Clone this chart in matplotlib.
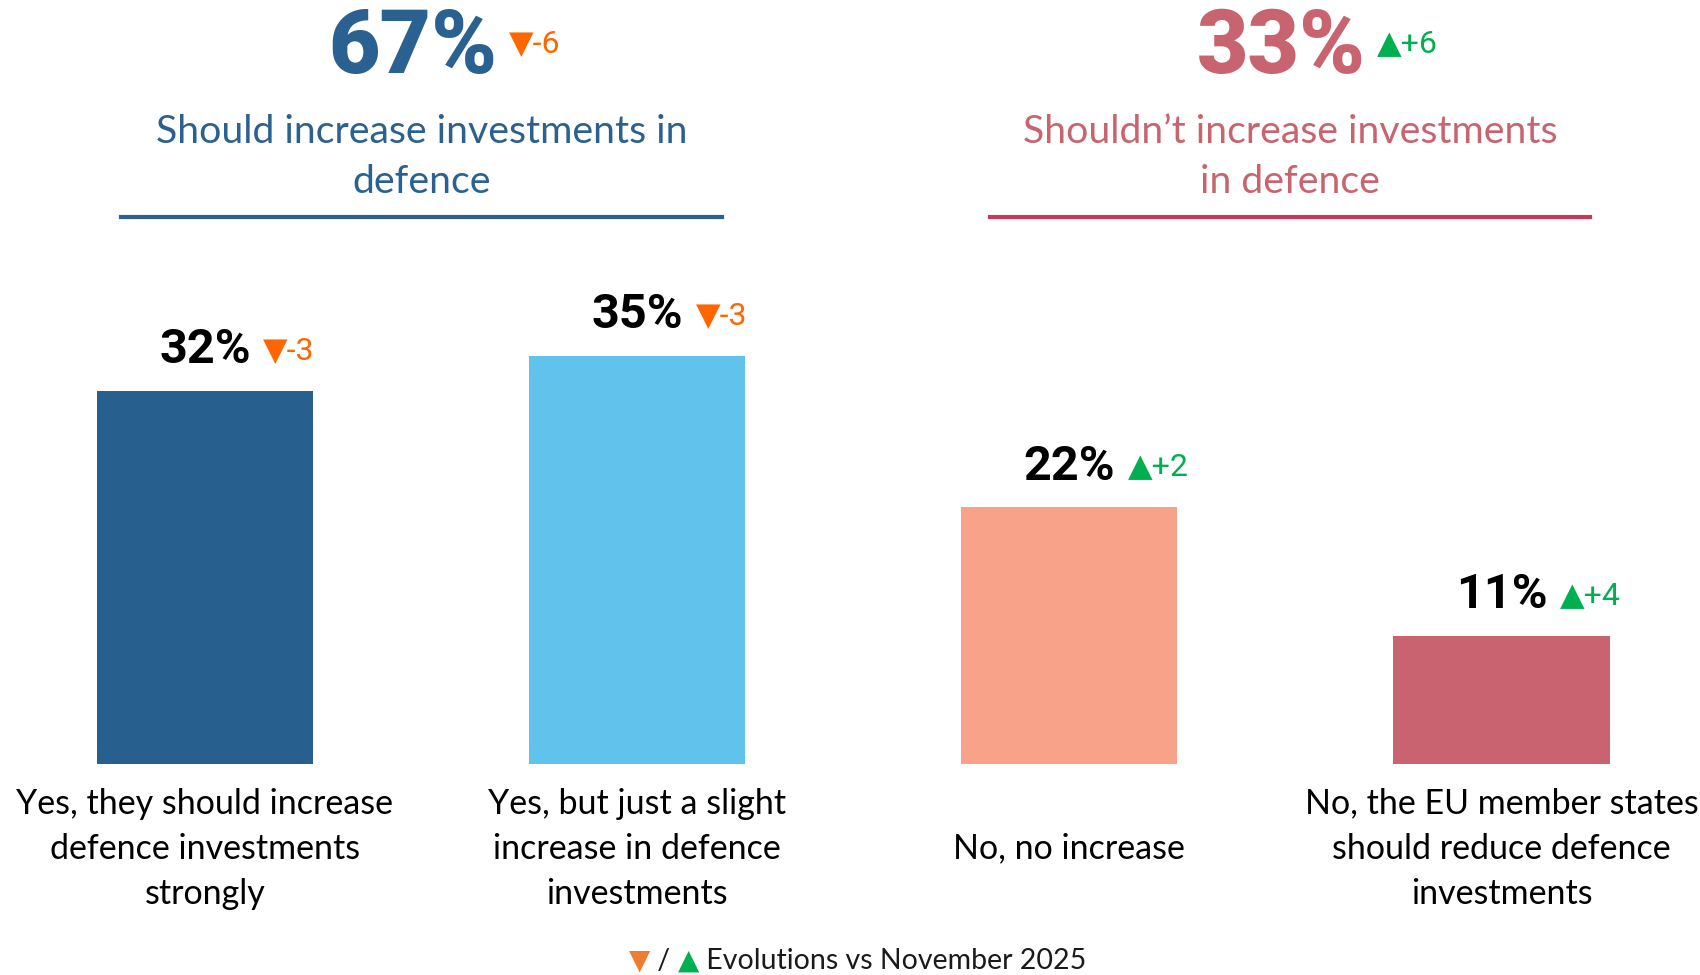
import matplotlib
matplotlib.use('Agg')
from matplotlib import pyplot as plt
from matplotlib.lines import Line2D

categories = ['Yes, they should increase\ndefence investments\nstrongly',
              'Yes, but just a slight\nincrease in defence\ninvestments',
              'No, no increase',
              'No, the EU member states\nshould reduce defence\ninvestments']
values = [32, 35, 22, 11]
changes = [-3, -3, 2, 4]
bar_colors = ['#27608E', '#61C3EC', '#F9A28A', '#C9636F']

group_totals = [67, 33]
group_changes = [-6, 6]
group_titles = ['Should increase investments in\ndefence',
                'Shouldn\u2019t increase investments\nin defence']
group_colors = ['#2A6190', '#C8646F']
group_line_colors = ['#2A6190', '#C9375A']

footer_note = 'Evolutions vs November 2025'

ORANGE = '#FF6600'
GREEN = '#00B050'
SANS = ['Lato', 'DejaVu Sans']
NUM = ['Roboto', 'DejaVu Sans']

def fx(px):
    return px / 1700

def fy(py):
    return 1 - py / 975

def delta_text(v):
    return ('\u25BC' if v < 0 else '\u25B2') + f'{v:+d}'

fig = plt.figure(figsize=(17, 9.75), dpi=100)

# bar area
ax = fig.add_axes([fx(10.5), fy(764), fx(1685.5), 466.8 / 975])
x = list(range(len(values)))
ax.bar(x, values, width=0.5, color=bar_colors)
ax.set_xlim(-0.45, 3.45)
ax.set_ylim(0, 40)
ax.axis('off')

for i, (v, c) in enumerate(zip(values, changes)):
    t = ax.annotate(f'{v}%', xy=(i, v), xytext=(0, 29), textcoords='offset points',
                    ha='center', va='center', fontsize=35, fontweight='bold',
                    family=NUM, color='black')
    ax.annotate(delta_text(c), xy=(1, 0.5), xycoords=t, xytext=(9, 0),
                textcoords='offset points', ha='left', va='center', fontsize=23,
                family=NUM, color=ORANGE if c < 0 else GREEN)
    ax.annotate(categories[i], xy=(i, 0), xytext=(0, -61), textcoords='offset points',
                ha='center', va='center', fontsize=24.5, family=SANS,
                linespacing=1.5, color='black')

# group headers
num_x = [413, 1281]
title_x = [421.5, 1290]
line_span = [(121, 722), (990, 1590)]
for k in range(2):
    t = fig.text(fx(num_x[k]), fy(49), f'{group_totals[k]}%', ha='center', va='center',
                 fontsize=64, fontweight=900, family=NUM, color=group_colors[k])
    c = group_changes[k]
    plt.annotate(delta_text(c), xy=(1, 0.56), xycoords=t, xytext=(8, 0),
                 textcoords='offset points', ha='left', va='center', fontsize=23,
                 family=NUM, color=ORANGE if c < 0 else GREEN)
    fig.text(fx(title_x[k]), fy(157), group_titles[k], ha='center', va='center',
             fontsize=28.3, family=SANS, color=group_colors[k], linespacing=1.45)
    fig.add_artist(Line2D([fx(line_span[k][0]), fx(line_span[k][1])], [fy(217), fy(217)],
                          transform=fig.transFigure, color=group_line_colors[k], lw=3))

# footer
f1 = fig.text(fx(629), fy(961), '\u25BC', ha='left', va='center', fontsize=20,
              family=['DejaVu Sans'], color='#ED7D31')
f2 = plt.annotate(' / ', xy=(1, 0.5), xycoords=f1, ha='left', va='center',
                  fontsize=20.5, family=SANS, color='#1a1a1a')
f3 = plt.annotate('\u25B2', xy=(1, 0.5), xycoords=f2, ha='left', va='center',
                  fontsize=20, family=['DejaVu Sans'], color=GREEN)
plt.annotate(' ' + footer_note, xy=(1, 0.5), xycoords=f3, ha='left', va='center',
             fontsize=20.5, family=SANS, color='#1a1a1a')

plt.savefig('out.png', dpi=100)
